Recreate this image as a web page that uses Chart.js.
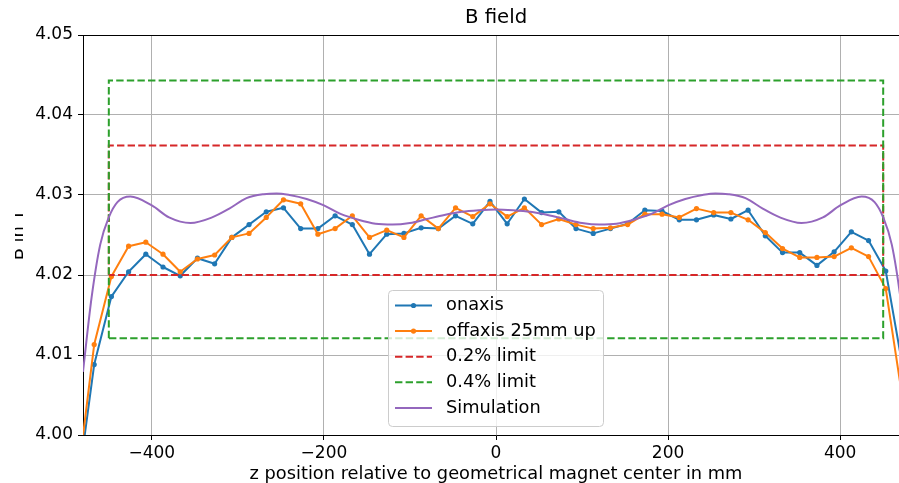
<!DOCTYPE html>
<html>
<head>
<meta charset="utf-8">
<script src="https://cdn.jsdelivr.net/npm/chart.js@4.4.1/dist/chart.umd.min.js"></script>
<style>
  html, body { margin: 0; padding: 0; background: #ffffff; overflow: hidden; width: 899px; height: 483px; }
  #clip { position: absolute; left: 15px; top: 0; width: 884px; height: 483px; overflow: hidden; }
  #c { position: absolute; left: -15px; top: 0; }
</style>
</head>
<body>
<div id="clip"><canvas id="c" width="930" height="483"></canvas></div>
<script>
// ---- data ----
const zPos = [-487,-467,-447,-427,-407,-387,-367,-347,-327,-307,-287,-267,-247,-227,-207,-187,-167,-147,-127,-107,-87,-67,-47,-27,-7,13,33,53,73,93,113,133,153,173,193,213,233,253,273,293,313,333,353,373,393,413,433,453,473];
const onaxis = [3.9928,4.0088,4.0173,4.0204,4.0226,4.0210,4.0199,4.0221,4.0214,4.0247,4.0263,4.0279,4.0284,4.0258,4.0258,4.0274,4.0263,4.0226,4.0251,4.0252,4.0259,4.0258,4.0274,4.0264,4.0292,4.0264,4.0295,4.0278,4.0279,4.0258,4.0252,4.0258,4.0264,4.0281,4.0280,4.0269,4.0269,4.0275,4.0270,4.0281,4.0249,4.0228,4.0228,4.0212,4.0229,4.0254,4.0243,4.0205,4.0083];
const offaxis = [3.9938,4.0113,4.0198,4.0236,4.0241,4.0226,4.0204,4.0220,4.0225,4.0247,4.0252,4.0272,4.0294,4.0289,4.0251,4.0258,4.0274,4.0247,4.0256,4.0247,4.0274,4.0258,4.0284,4.0273,4.0289,4.0273,4.0284,4.0263,4.0270,4.0263,4.0258,4.0259,4.0263,4.0276,4.0276,4.0272,4.0283,4.0278,4.0278,4.0269,4.0253,4.0233,4.0222,4.0222,4.0223,4.0234,4.0223,4.0183,4.0042];
const simZ = [-480,-470,-460,-450,-440,-425,-400,-380,-355,-330,-310,-290,-270,-255,-240,-220,-200,-180,-160,-140,-120,-100,-80,-60,-40,-20,0,20,40,60,80,100,120,140,160,180,200,220,240,255,270,290,310,330,355,380,400,425,440,450,460,470,480];
const simB = [4.0079,4.0172,4.0238,4.0272,4.0291,4.0298,4.0287,4.0272,4.0265,4.0272,4.0283,4.0296,4.0301,4.0302,4.0300,4.0295,4.0287,4.0276,4.0269,4.0264,4.0263,4.0265,4.0270,4.0275,4.0279,4.0281,4.0282,4.0281,4.0279,4.0275,4.0270,4.0265,4.0263,4.0264,4.0269,4.0276,4.0287,4.0295,4.0300,4.0302,4.0301,4.0296,4.0283,4.0272,4.0265,4.0272,4.0287,4.0298,4.0291,4.0272,4.0238,4.0172,4.0079];
const limitZ = [-450,-450,450,450,-450];
const limit02 = [4.0200,4.0362,4.0362,4.0200,4.0200];
const limit04 = [4.0121,4.0443,4.0443,4.0121,4.0121];
const xTicks = [-400,-200,0,200,400];
const yTicks = [4.00,4.01,4.02,4.03,4.04,4.05];
const yTickLabels = ['4.00','4.01','4.02','4.03','4.04','4.05'];
const seriesLabels = ['onaxis','offaxis 25mm up','0.2% limit','0.4% limit','Simulation'];
const chartTitle = 'B field';
const xTitle = 'z position relative to geometrical magnet center in mm';
const yTitle = 'B in T';

// ---- build ----
const FONT = 'DejaVu Sans';
Chart.defaults.font.family = FONT;
const pts = (xs, ys) => xs.map((x, i) => ({x: x, y: ys[i]}));
const DASH = [7.4, 3.2];

const decor = {
  id: 'decor',
  afterDraw(chart) {
    const ctx = chart.ctx, a = chart.chartArea;
    ctx.save();
    // top spine
    ctx.strokeStyle = '#000'; ctx.lineWidth = 1; ctx.setLineDash([]);
    ctx.beginPath(); ctx.moveTo(a.left, a.top + 0.5); ctx.lineTo(a.right, a.top + 0.5); ctx.stroke();
    // title
    ctx.fillStyle = '#000'; ctx.font = '19.7px "' + FONT + '"';
    ctx.textAlign = 'center'; ctx.textBaseline = 'middle';
    ctx.fillText(chartTitle, (a.left + a.right) / 2, 18);
    // legend
    const x0 = 388.5, y0 = 290.5, w = 215, h = 136, r = 4;
    ctx.beginPath();
    ctx.moveTo(x0 + r, y0); ctx.lineTo(x0 + w - r, y0); ctx.arcTo(x0 + w, y0, x0 + w, y0 + r, r);
    ctx.lineTo(x0 + w, y0 + h - r); ctx.arcTo(x0 + w, y0 + h, x0 + w - r, y0 + h, r);
    ctx.lineTo(x0 + r, y0 + h); ctx.arcTo(x0, y0 + h, x0, y0 + h - r, r);
    ctx.lineTo(x0, y0 + r); ctx.arcTo(x0, y0, x0 + r, y0, r); ctx.closePath();
    ctx.fillStyle = 'rgba(255,255,255,0.8)'; ctx.fill();
    ctx.strokeStyle = '#cccccc'; ctx.lineWidth = 1; ctx.stroke();
    chart.data.datasets.forEach((ds, i) => {
      const y = 305.5 + i * 25.6;
      ctx.strokeStyle = ds.borderColor; ctx.lineWidth = 2;
      ctx.setLineDash(ds.borderDash || []);
      ctx.beginPath(); ctx.moveTo(395, y); ctx.lineTo(432, y); ctx.stroke();
      ctx.setLineDash([]);
      if (ds.pointRadius > 0) {
        ctx.fillStyle = ds.borderColor;
        ctx.beginPath(); ctx.arc(413.5, y, 2.6, 0, Math.PI * 2); ctx.fill();
      }
      ctx.fillStyle = '#000'; ctx.font = '17.8px "' + FONT + '"';
      ctx.textAlign = 'left'; ctx.textBaseline = 'middle';
      ctx.fillText(ds.label, 446, y);
    });
    ctx.restore();
  }
};

new Chart(document.getElementById('c'), {
  type: 'scatter',
  data: {
    datasets: [
      { label: seriesLabels[0], data: pts(zPos, onaxis), showLine: true, borderColor: '#1f77b4', backgroundColor: '#1f77b4', borderWidth: 2, pointRadius: 2.6, pointBorderWidth: 0, order: 5, clip: 0, borderJoinStyle: 'round' },
      { label: seriesLabels[1], data: pts(zPos, offaxis), showLine: true, borderColor: '#ff7f0e', backgroundColor: '#ff7f0e', borderWidth: 2, pointRadius: 2.6, pointBorderWidth: 0, order: 4, clip: 0, borderJoinStyle: 'round' },
      { label: seriesLabels[2], data: pts(limitZ, limit02), showLine: true, borderColor: '#d62728', backgroundColor: '#d62728', borderWidth: 2, borderDash: DASH, pointRadius: 0, order: 3, clip: 0 },
      { label: seriesLabels[3], data: pts(limitZ, limit04), showLine: true, borderColor: '#2ca02c', backgroundColor: '#2ca02c', borderWidth: 2, borderDash: DASH, pointRadius: 0, order: 2, clip: 0 },
      { label: seriesLabels[4], data: pts(simZ, simB), showLine: true, borderColor: '#9467bd', backgroundColor: '#9467bd', borderWidth: 2, pointRadius: 0, cubicInterpolationMode: 'monotone', order: 1, clip: 0 }
    ]
  },
  options: {
    responsive: false,
    animation: false,
    devicePixelRatio: 1,
    layout: { padding: { left: 0, right: 21, top: 35, bottom: 0 } },
    plugins: { legend: { display: false }, title: { display: false }, tooltip: { enabled: false } },
    scales: {
      x: {
        type: 'linear', min: -480, max: 480,
        afterBuildTicks: s => { s.ticks = xTicks.map(v => ({value: v})); },
        afterFit: s => { s.height = 48; },
        ticks: { callback: v => String(v).replace('-', '\u2212'), font: { size: 17 }, color: '#000', padding: 3, maxRotation: 0, autoSkip: false },
        grid: { color: '#b0b0b0', lineWidth: 1, tickLength: 5, tickColor: '#000' },
        border: { color: '#000', width: 1 },
        title: { display: true, text: xTitle, font: { size: 17.8 }, color: '#000', padding: { top: 0, bottom: -2 } }
      },
      y: {
        type: 'linear', min: 4.00, max: 4.05,
        afterBuildTicks: s => { s.ticks = yTicks.map(v => ({value: v})); },
        afterFit: s => { s.width = 83; },
        ticks: { callback: (v, i) => yTickLabels[i], font: { size: 17 }, color: '#000', padding: 5, autoSkip: false },
        grid: { color: '#b0b0b0', lineWidth: 1, tickLength: 5, tickColor: '#000' },
        border: { color: '#000', width: 1 },
        title: { display: true, text: yTitle, font: { size: 17.8 }, color: '#000', padding: { top: 8, bottom: 0 } }
      }
    }
  },
  plugins: [decor]
});
</script>
</body>
</html>
